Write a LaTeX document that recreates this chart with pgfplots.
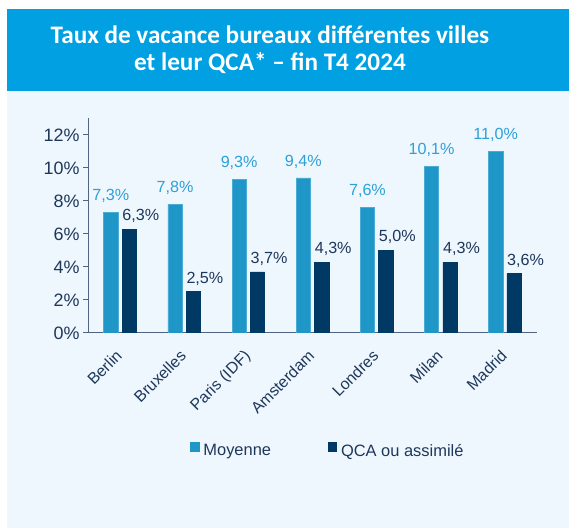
\documentclass[border=0pt]{standalone}
\usepackage{fontspec}
\setmainfont{Liberation Sans}
\newfontfamily\carlito{Carlito}
\usepackage{pgfplots}
\pgfplotsset{compat=1.18}
\definecolor{header}{RGB}{0,160,227}
\definecolor{panel}{RGB}{239,247,254}
\definecolor{moy}{RGB}{30,150,200}
\definecolor{qca}{RGB}{0,58,100}
\definecolor{moylab}{RGB}{45,160,215}
\definecolor{navy}{RGB}{30,55,90}
\definecolor{axisc}{RGB}{80,100,130}
\pgfplotstableread{
x moy qca
0 7.3 6.3
1 7.8 2.5
2 9.3 3.7
3 9.4 4.3
4 7.6 5.0
5 10.1 4.3
6 11.0 3.6
}\data
\begin{document}
\begin{tikzpicture}[x=1bp,y=1bp]
\useasboundingbox (0,0) rectangle (569,529);
\fill[white] (0,0) rectangle (569,529);
\fill[panel] (7,1) rectangle (569,438);
\fill[header] (7,438) rectangle (569,520);
\node[text=white, font=\carlito\bfseries\fontsize{25.3}{30}\selectfont, anchor=base, inner sep=0pt] at (270,485.7) {Taux de vacance bureaux différentes villes};
\node[text=white, font=\carlito\bfseries\fontsize{25.3}{30}\selectfont, anchor=base, inner sep=0pt] at (270,458) {et leur QCA* – fin T4 2024};
\begin{axis}[
  at={(88bp,196bp)}, anchor=south west,
  scale only axis, width=449bp, height=214.5bp,
  xmin=-0.5, xmax=6.5, ymin=0, ymax=13,
  axis lines*=left,
  axis line style={axisc, line width=1bp},
  /pgf/number format/assume math mode=true,
  ybar=4.1bp, bar width=14.3bp,
  xtick={0,...,6},
  xticklabels={Berlin,Bruxelles,Paris (IDF),Amsterdam,Londres,Milan,Madrid},
  xtick style={draw=none},
  ytick={0,2,...,12},
  yticklabel={\pgfmathprintnumber{\tick}\%},
  ytick style={axisc, line width=1bp},
  tick align=outside, major tick length=5bp,
  yticklabel style={font=\fontsize{18}{21}\selectfont, text=navy},
  xticklabel style={font=\fontsize{16}{19}\selectfont, text=navy, inner sep=0pt, anchor=base east, xshift=3bp, yshift=-19bp, rotate=45},
  legend style={at={(axis description cs:0.227,-0.545)}, anchor=west, draw=none, fill=none, legend columns=2,
    font=\fontsize{16.5}{19}\selectfont, text=navy, inner sep=0pt, nodes={inner sep=0pt},
    /tikz/every odd column/.append style={column sep=4bp},
    /tikz/every even column/.append style={column sep=56.7bp}},
]
\addplot[fill=moy, draw=moy!80!white, line width=0.6bp,
  legend image code/.code={\fill[moy] (0bp,0bp) rectangle (8.7bp,8.7bp);},
  nodes near coords={\pgfmathprintnumber[fixed,fixed zerofill,precision=1,use comma]{\pgfplotspointmeta}\%},
  every node near coord/.append style={text=moylab, font=\fontsize{16.2}{19}\selectfont, anchor=base, inner sep=0pt, yshift=11.6bp}]
  table[x=x,y=moy] {\data};
\addplot[fill=qca, draw=qca, line width=0.6bp,
  legend image code/.code={\fill[qca] (0bp,0bp) rectangle (8.7bp,8.7bp);},
  nodes near coords={\pgfmathprintnumber[fixed,fixed zerofill,precision=1,use comma]{\pgfplotspointmeta}\%},
  every node near coord/.append style={text=navy, font=\fontsize{16.2}{19}\selectfont, anchor=base, inner sep=0pt, xshift=11.5bp, yshift=8.5bp}]
  table[x=x,y=qca] {\data};
\legend{Moyenne,QCA ou assimilé}
\end{axis}
\end{tikzpicture}
\end{document}
